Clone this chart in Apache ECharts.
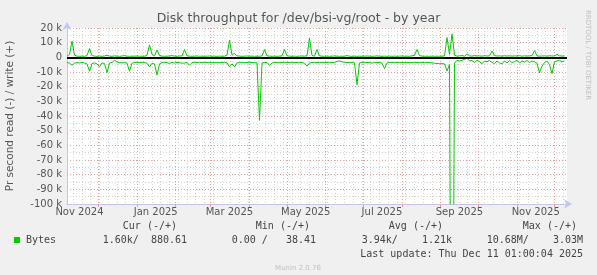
<!DOCTYPE html>
<html><head><meta charset="utf-8">
<script src="https://cdn.jsdelivr.net/npm/echarts@6/dist/echarts.min.js"></script>
<style>html,body{margin:0;padding:0;background:#f0f0f0;}#c{width:597px;height:275px;}</style>
</head><body><div id="c"></div>
<script>
// ---- data ----
const startTime = Date.UTC(2024, 10, 6, 1);   // graph start (end - 400 days)
const endTime = Date.UTC(2025, 11, 11, 1);    // last update
const stepDays = 2;                            // one sample every 2 days
// write (+), in k bytes/s
const writeK = [
  0.8, 2.0, 11.0, 1.5, 0.8, 0.7, 0.8, 0.7, 1.2, 6.0,
  1.2, 0.8, 0.7, 0.8, 0.7, 0.9, 1.5, 0.8, 0.7, 1.0,
  0.8, 0.7, 0.9, 1.2, 0.8, 0.7, 0.8, 0.7, 0.9, 0.7,
  0.8, 0.7, 1.5, 8.5, 2.0, 1.0, 5.0, 1.2, 0.8, 0.7,
  0.8, 0.9, 1.2, 0.8, 0.7, 0.9, 1.0, 5.3, 1.0, 0.8,
  0.7, 0.8, 0.9, 0.7, 0.8, 0.7, 0.8, 0.9, 0.7, 0.8,
  0.7, 0.8, 0.7, 0.8, 1.5, 11.8, 1.5, 2.7, 1.0, 0.8,
  0.7, 0.8, 0.9, 0.7, 0.8, 0.7, 0.8, 0.7, 1.0, 5.3,
  1.0, 0.8, 0.7, 0.8, 0.7, 0.8, 1.0, 5.3, 1.0, 0.8,
  0.7, 0.8, 0.7, 0.8, 0.9, 0.8, 1.0, 12.9, 1.2, 0.8,
  5.3, 1.0, 0.8, 0.7, 0.8, 0.7, 0.8, 0.9, 0.8, 0.7,
  0.8, 0.7, 1.2, 0.8, 0.7, 0.8, 0.7, 0.8, 0.7, 0.8,
  0.9, 0.8, 0.7, 0.8, 1.0, 0.8, 0.7, 0.8, 0.7, 0.8,
  0.7, 0.8, 0.7, 0.8, 0.9, 0.7, 0.8, 0.7, 1.0, 1.5,
  5.3, 1.2, 0.8, 0.7, 0.8, 0.7, 0.8, 0.7, 0.8, 0.7,
  0.8, 1.0, 13.5, 2.0, 16.0, 1.5, 0.8, 1.0, 1.2, 0.8,
  2.3, 1.0, 0.8, 1.2, 0.9, 1.0, 0.8, 1.1, 0.9, 1.0,
  4.3, 1.2, 0.9, 1.0, 0.8, 1.1, 0.9, 1.0, 0.8, 1.0,
  0.9, 1.1, 0.8, 1.0, 0.9, 1.0, 1.2, 4.6, 1.0, 0.8,
  0.9, 1.0, 0.8, 1.1, 0.9, 1.0, 2.0, 1.0, 0.9, 0.9
];
// read (-), in k bytes/s (negative); the early-September dip runs off the bottom of the chart
const readK = [
  -3.6, -4.0, -5.4, -4.0, -3.6, -3.8, -3.5, -3.8, -4.5, -9.5,
  -4.2, -3.8, -4.5, -6.5, -3.8, -4.2, -10.4, -4.0, -3.5, -2.0,
  -3.2, -3.6, -3.8, -3.5, -4.0, -9.5, -4.0, -3.5, -3.4, -3.6,
  -3.4, -3.5, -4.0, -6.6, -4.0, -4.5, -12.0, -4.5, -3.5, -3.4,
  -3.6, -4.2, -3.5, -3.8, -3.4, -3.6, -4.0, -3.8, -3.5, -5.4,
  -3.6, -3.4, -3.5, -3.4, -3.6, -3.4, -3.5, -3.4, -3.6, -3.5,
  -3.4, -3.6, -3.5, -3.4, -3.8, -6.5, -4.5, -6.5, -3.8, -3.5,
  -3.4, -3.6, -3.5, -3.4, -3.6, -3.5, -3.8, -43.0, -3.8, -3.5,
  -3.6, -5.4, -3.8, -3.5, -3.4, -3.6, -3.5, -3.4, -3.6, -3.5,
  -3.4, -3.6, -3.5, -3.4, -3.6, -4.0, -6.0, -4.0, -3.5, -3.4,
  -3.6, -3.5, -3.4, -3.6, -3.5, -3.4, -3.6, -3.5, -2.8, -2.5,
  -3.0, -3.4, -3.6, -3.5, -3.4, -3.8, -18.6, -3.8, -3.5, -3.4,
  -3.6, -3.5, -4.0, -3.4, -3.6, -3.5, -3.8, -7.7, -3.8, -3.5,
  -3.4, -3.6, -3.5, -3.4, -3.6, -3.5, -3.4, -3.6, -3.5, -3.4,
  -3.6, -3.5, -3.4, -3.6, -3.5, -3.4, -3.8, -4.0, -4.2, -4.3,
  -4.3, -4.5, -9.3, -5.0, -350, -4.0, -2.0, -2.5, -2.0, -1.5,
  -0.5, -2.5, -2.2, -3.5, -2.0, -3.0, -4.3, -2.5, -3.0, -2.2,
  -3.5, -4.3, -2.5, -3.8, -4.5, -2.5, -3.8, -2.2, -3.5, -3.0,
  -2.0, -3.8, -2.5, -3.2, -2.2, -3.5, -2.5, -3.0, -4.0, -10.5,
  -6.0, -3.5, -2.5, -5.0, -11.0, -3.0, -2.5, -2.0, -3.0, -2.5
];
const monthLabels = ['Nov 2024', 'Jan 2025', 'Mar 2025', 'May 2025', 'Jul 2025', 'Sep 2025', 'Nov 2025'];
const yMin = -100, yMax = 20, yMajor = 10, yMinor = 5;
const legendHeaders = ['Cur (-/+)', 'Min (-/+)', 'Avg (-/+)', 'Max (-/+)'];
const legendName = 'Bytes';
const legendValues = ['1.60k/  880.61', '0.00 /   38.41', '3.94k/    1.21k', '10.68M/    3.03M'];
const lastUpdate = 'Last update: Thu Dec 11 01:00:04 2025';
const titleText = 'Disk throughput for /dev/bsi-vg/root - by year';
const yName = 'Pr second read (-) / write (+)';

// ---- build ----
const DAY = 86400000;
const writeData = writeK.map((v, i) => [startTime + i * stepDays * DAY, v]);
const readData = readK.map((v, i) => [startTime + i * stepDays * DAY, v]);

const monthNames = ['Jan','Feb','Mar','Apr','May','Jun','Jul','Aug','Sep','Oct','Nov','Dec'];
const monthStarts = [];
for (let y = 2024; y <= 2025; y++) for (let m = 0; m < 12; m++) {
  const t = Date.UTC(y, m, 1);
  if (t > startTime && t < endTime) monthStarts.push(t);
}
const weekStarts = [];
for (let t = Date.UTC(2024, 10, 11); t < endTime; t += 7 * DAY) weekStarts.push(t);
const labelPos = {};
monthLabels.forEach(s => {
  const [mn, yr] = s.split(' ');
  const t = Date.UTC(+yr, monthNames.indexOf(mn), 1) + 15 * DAY;
  labelPos[t] = s;
});
const labelValues = Object.keys(labelPos).map(Number);

const axisCol = '#c4c4f0';
const majorGrid = { show: true, lineStyle: { color: '#e6a0a0', width: 1, type: [1, 2] } };
const minorGrid = { show: true, lineStyle: { color: '#d4d4d4', width: 1, type: [1, 2] } };
const txt = '#555';

const chart = echarts.init(document.getElementById('c'), null, { renderer: 'canvas' });
chart.setOption({
  animation: false,
  backgroundColor: '#f0f0f0',
  title: {
    text: titleText, left: 'center', top: 7,
    textStyle: { fontFamily: 'DejaVu Sans', fontSize: 12.5, fontWeight: 'normal', color: '#555' }
  },
  grid: { left: 67, top: 28, width: 500, height: 176, show: true, backgroundColor: '#ffffff', borderWidth: 0, containLabel: false, outerBoundsMode: 'none' },
  xAxis: [
    {
      type: 'value', min: startTime, max: endTime, position: 'bottom',
      axisLine: { show: false, onZero: false },
      axisTick: { show: false, customValues: weekStarts },
      axisLabel: { show: false },
      splitLine: minorGrid
    },
    {
      type: 'value', min: startTime, max: endTime, position: 'bottom',
      axisLine: { show: true, onZero: false, lineStyle: { color: axisCol, width: 1 }, symbol: ['none', 'arrow'], symbolSize: [7, 8], symbolOffset: [0, 5] },
      axisTick: { show: true, length: 3, customValues: monthStarts, lineStyle: { color: '#e6a0a0' } },
      axisLabel: {
        show: true, customValues: labelValues, margin: 3, hideOverlap: false,
        formatter: v => labelPos[v] || '',
        fontFamily: 'DejaVu Sans', fontSize: 10, color: txt
      },
      splitLine: majorGrid
    }
  ],
  yAxis: [
    {
      type: 'value', min: yMin, max: yMax, interval: yMinor, position: 'left',
      axisLine: { show: false, onZero: false }, axisTick: { show: false }, axisLabel: { show: false },
      splitLine: minorGrid
    },
    {
      type: 'value', min: yMin, max: yMax, interval: yMajor, position: 'left',
      name: yName, nameLocation: 'middle', nameRotate: 90, nameGap: 51,
      nameTextStyle: { fontFamily: 'DejaVu Sans', fontSize: 10.5, color: txt },
      axisLine: { show: true, onZero: false, lineStyle: { color: axisCol, width: 1 }, symbol: ['none', 'arrow'], symbolSize: [7, 8], symbolOffset: [0, 6] },
      axisTick: { show: false },
      axisLabel: { margin: 5, fontFamily: 'DejaVu Sans', fontSize: 10, color: txt,
        formatter: v => v === 0 ? '0' : v + ' k' },
      splitLine: majorGrid
    }
  ],
  series: [
    {
      name: 'read', type: 'line', xAxisIndex: 1, yAxisIndex: 1, data: readData,
      showSymbol: false, symbol: 'none', lineStyle: { color: '#00cc00', width: 1 }, itemStyle: { color: '#00cc00' }
    },
    {
      name: 'write', type: 'line', xAxisIndex: 1, yAxisIndex: 1, data: writeData,
      showSymbol: false, symbol: 'none', lineStyle: { color: '#00cc00', width: 1 }, itemStyle: { color: '#00cc00' },
      markLine: { silent: true, symbol: 'none', label: { show: false },
        lineStyle: { color: '#000000', width: 2, type: 'solid' }, data: [{ yAxis: 0 }] }
    }
  ],
  graphic: [
    { type: 'text', x: 588, y: 55, rotation: -Math.PI / 2,
      style: { text: 'RRDTOOL / TOBI OETIKER', font: '7px "DejaVu Sans"', fill: '#c0c0c0', align: 'center', verticalAlign: 'middle' } },
    ...legendHeaders.map((h, i) => ({ type: 'text', x: [177, 310, 443, 577][i], y: 226,
      style: { text: h, font: '10px "DejaVu Sans Mono"', fill: '#444', align: 'right', verticalAlign: 'middle' } })),
    { type: 'rect', shape: { x: 14, y: 237, width: 6, height: 6 }, style: { fill: '#00cc00' } },
    { type: 'text', x: 26, y: 240, style: { text: legendName, font: '10px "DejaVu Sans Mono"', fill: '#444', align: 'left', verticalAlign: 'middle' } },
    ...legendValues.map((s, i) => ({ type: 'text', x: [187, 316, 452, 583][i], y: 240,
      style: { text: s, font: '10px "DejaVu Sans Mono"', fill: '#444', align: 'right', verticalAlign: 'middle' } })),
    { type: 'text', x: 583, y: 254, style: { text: lastUpdate, font: '10px "DejaVu Sans Mono"', fill: '#444', align: 'right', verticalAlign: 'middle' } },
    { type: 'text', x: 298, y: 268, style: { text: 'Munin 2.0.76', font: '7px "DejaVu Sans"', fill: '#c0c0c0', align: 'center', verticalAlign: 'middle' } }
  ]
});
</script>
</body></html>
